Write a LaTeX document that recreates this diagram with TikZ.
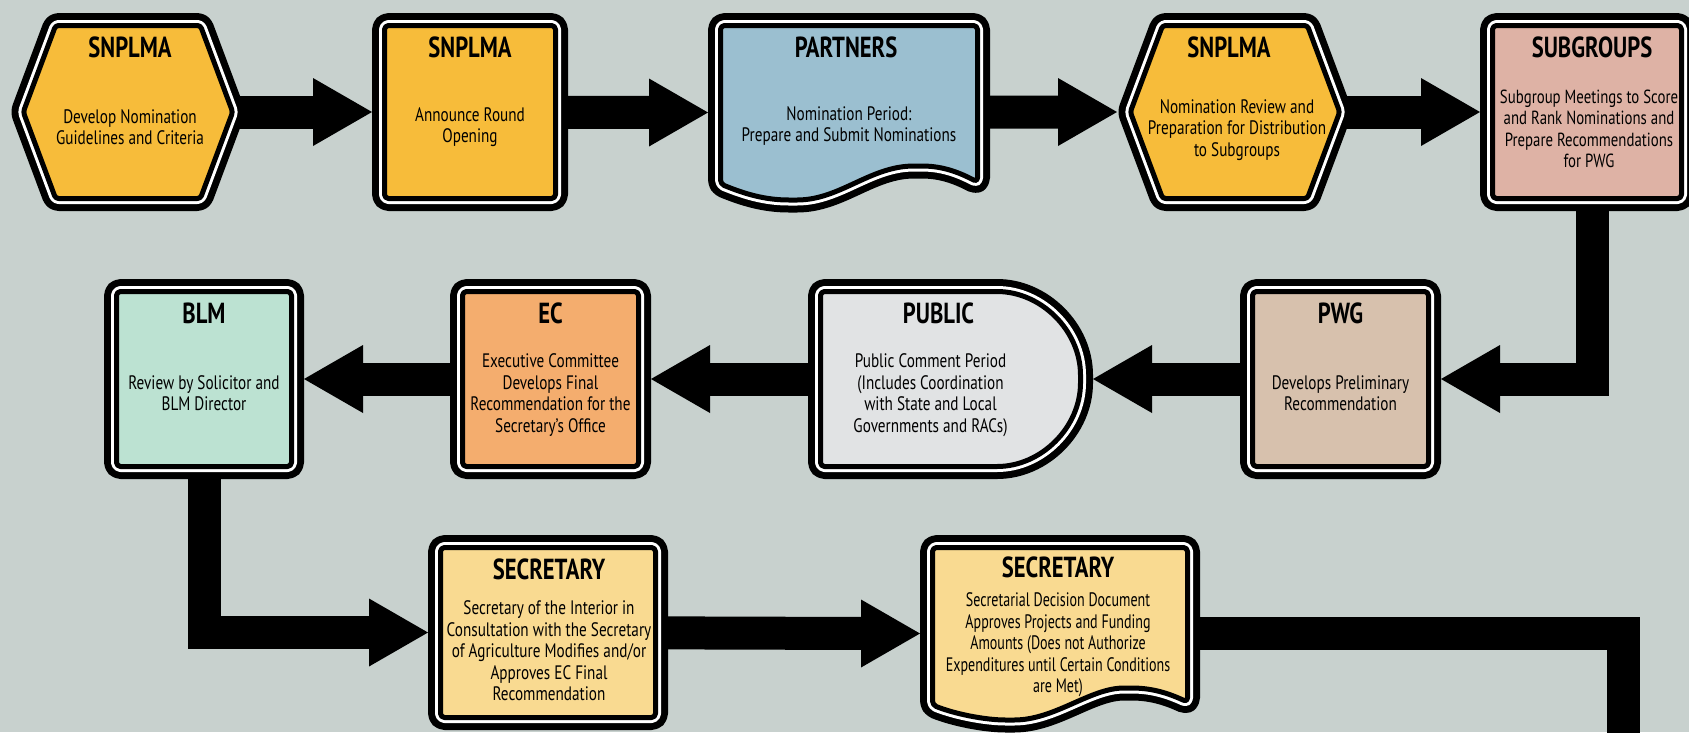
\documentclass[tikz,border=0pt]{standalone}
\usepackage{fontspec}
\setmainfont{PT Sans}[FakeStretch=0.78]
\newfontfamily\narrowfont{PT Sans}[FakeStretch=0.72]
\usetikzlibrary{calc}
\definecolor{bgc}{HTML}{C8D1CE}
\definecolor{yelc}{HTML}{F7BC3A}
\definecolor{bluc}{HTML}{9BBFD0}
\definecolor{pnkc}{HTML}{DEB2A5}
\definecolor{pwgc}{HTML}{D7C1AD}
\definecolor{pubc}{HTML}{E1E3E4}
\definecolor{ecc}{HTML}{F4AD6E}
\definecolor{blmc}{HTML}{BCE2D2}
\definecolor{secc}{HTML}{F9DA91}
\newcommand\headE[1]{\fill[black] ($(#1)+(-59,-34)$) -- (#1) -- ($(#1)+(-59,34)$) -- cycle;}
\newcommand\headW[1]{\fill[black] ($(#1)+(59,-34)$) -- (#1) -- ($(#1)+(59,34)$) -- cycle;}
\begin{document}
\begin{tikzpicture}[x=1pt,y=-1pt,
  frame/.style={inner sep=0pt, outer sep=0pt, draw=none},
  tri/.style={draw=black, line width=5pt, fill=#1, line join=round,
    preaction={draw=black, line width=25pt, line join=round},
    preaction={draw=white, line width=11pt, line join=round}},
  shaft/.style={draw=black, line width=33pt, line join=miter, line cap=butt},
  ttl/.style={font=\fontsize{29}{32}\selectfont\bfseries, inner sep=0pt},
  bod/.style={font=\fontsize{19.5}{21.5}\selectfont, align=center, inner sep=0pt},
  nbod/.style={font=\narrowfont\fontsize{19.5}{21.5}\selectfont, align=center, inner sep=0pt}]
\useasboundingbox (0,0) rectangle (1689,732);
\fill[bgc] (0,0) rectangle (1689,732);
% frames (outer bounds of the boxes)
\node[frame, minimum width=236pt, minimum height=198pt] (h1) at (128,112) {};
\node[frame, minimum width=196pt, minimum height=198pt] (b2) at (470,112) {};
\node[frame, minimum width=282pt, minimum height=199pt] (pa) at (849,112.5) {};
\node[frame, minimum width=236pt, minimum height=198pt] (h2) at (1235,112) {};
\node[frame, minimum width=214pt, minimum height=198pt] (sg) at (1587,112) {};
\node[frame, minimum width=201pt, minimum height=200pt] (pw) at (1340.5,379) {};
\node[frame, minimum width=285pt, minimum height=200pt] (pu) at (950.5,379) {};
\node[frame, minimum width=201pt, minimum height=200pt] (ec) at (550.5,379) {};
\node[frame, minimum width=200pt, minimum height=200pt] (bl) at (204,379) {};
\node[frame, minimum width=240pt, minimum height=195pt] (s1) at (548,632.5) {};
\node[frame, minimum width=280pt, minimum height=197pt] (s2) at (1060,633.5) {};
\coordinate (out) at (1623.5,760);
% connectors
\draw[shaft] (h1.center) -- ($(b2.west)+(-50,0)$); \headE{b2.west}
\draw[shaft] (b2.center) -- ($(pa.west)+(-50,0)$); \headE{pa.west}
\draw[shaft] (pa.center) -- ($(h2.west)+(-50,0)$); \headE{h2.west}
\draw[shaft] (h2.center) -- ($(sg.west)+(-50,0)$); \headE{sg.west}
\draw[shaft] ($(sg.center)+(5,0)$) |- ($(pw.east)+(50,0)$); \headW{pw.east}
\draw[shaft] (pw.center) -- ($(pu.east)+(50,0)$); \headW{pu.east}
\draw[shaft] (pu.center) -- ($(ec.east)+(50,0)$); \headW{ec.east}
\draw[shaft] (ec.center) -- ($(bl.east)+(50,0)$); \headW{bl.east}
\draw[shaft] (bl.center) |- ($(s1.west)+(-50,0)$); \headE{s1.west}
\draw[shaft] (s1.center) -- ($(s2.west)+(-50,0)$); \headE{s2.west}
\draw[shaft] (s2.center) -| (out);
% shapes
\path[tri=yelc, rounded corners=3pt] (23.3,112) -- (55.6,25.5) -- (200.4,25.5) -- (232.7,112) -- (200.4,198.5) -- (55.6,198.5) -- cycle;
\path[tri=yelc, rounded corners=4pt] (384.5,25.5) rectangle (555.5,198.5);
\path[tri=bluc, rounded corners=4pt] (849,25.5) -- (720.5,25.5) -- (720.5,184)
  .. controls (745,194) and (765,200) .. (793,200)
  .. controls (840,200) and (870,166) .. (918,166)
  .. controls (945,166) and (962,174) .. (977.5,182) -- (977.5,25.5) -- cycle;
\path[tri=yelc, rounded corners=3pt] (1130.3,112) -- (1162.6,25.5) -- (1307.4,25.5) -- (1339.7,112) -- (1307.4,198.5) -- (1162.6,198.5) -- cycle;
\path[tri=pnkc, rounded corners=4pt] (1492.5,25.5) rectangle (1681.5,198.5);
\path[tri=pwgc, rounded corners=4pt] (1252.5,291.5) rectangle (1428.5,466.5);
\path[tri=pubc, rounded corners=4pt] (900,291.5) -- (820.5,291.5) -- (820.5,466.5) -- (993,466.5)
  .. controls (1041.3,466.5) and (1080.5,427.3) .. (1080.5,379)
  .. controls (1080.5,330.7) and (1041.3,291.5) .. (993,291.5) -- cycle;
\path[tri=ecc, rounded corners=4pt] (462.5,291.5) rectangle (638.5,466.5);
\path[tri=blmc, rounded corners=4pt] (116.5,291.5) rectangle (291.5,466.5);
\path[tri=secc, rounded corners=4pt] (440.5,547.5) rectangle (655.5,717.5);
\path[tri=secc, rounded corners=4pt] (1060,547.5) -- (932.5,547.5) -- (932.5,705)
  .. controls (955,714) and (985,720) .. (1010,720)
  .. controls (1055,720) and (1090,688) .. (1128,688)
  .. controls (1155,688) and (1172,695) .. (1187.5,702) -- (1187.5,547.5) -- cycle;
% texts
\node[ttl] (h1t) at ($(h1.north)+(2,34)$) {SNPLMA};
\node[bod] (h1b) at ($(h1.north)+(2,114)$) {Develop Nomination\\Guidelines and Criteria};
\node[ttl] (b2t) at ($(b2.north)+(0,34)$) {SNPLMA};
\node[bod] (b2b) at ($(b2.north)+(0,114)$) {Announce Round\\Opening};
\node[ttl] (pat) at ($(pa.north)+(-3,34)$) {PARTNERS};
\node[bod] (pab) at ($(pa.north)+(0,113)$) {Nomination Period:\\Prepare and Submit Nominations};
\node[ttl] (h2t) at ($(h2.north)+(-6,34)$) {SNPLMA};
\node[bod] (h2b) at ($(h2.north)+(2,117)$) {Nomination Review and\\Preparation for Distribution\\to Subgroups};
\node[ttl] (sgt) at ($(sg.north)+(5,34)$) {SUBGROUPS};
\node[bod, font=\fontsize{19}{21.5}\selectfont] (sgb) at ($(sg.north)+(2,116)$) {Subgroup Meetings to Score\\and Rank Nominations and\\Prepare Recommendations\\for PWG};
\node[ttl] (pwt) at ($(pw.north)+(0,34)$) {PWG};
\node[bod] (pwb) at ($(pw.north)+(0,114)$) {Develops Preliminary\\Recommendation};
\node[ttl] (put) at ($(pu.north)+(-12,34)$) {PUBLIC};
\node[bod] (pub) at ($(pu.north)+(-20,116)$) {Public Comment Period\\(Includes Coordination\\with State and Local\\Governments and RACs)};
\node[ttl] (ect) at ($(ec.north)+(0,34)$) {EC};
\node[bod] (ecb) at ($(ec.north)+(0,116)$) {Executive Committee\\Develops Final\\Recommendation for the\\Secretary’s Office};
\node[ttl] (blt) at ($(bl.north)+(0,34)$) {BLM};
\node[bod] (blb) at ($(bl.north)+(0,114)$) {Review by Solicitor and\\BLM Director};
\node[ttl] (s1t) at ($(s1.north)+(1,34)$) {SECRETARY};
\node[bod] (s1b) at ($(s1.north)+(1,116)$) {Secretary of the Interior in\\Consultation with the Secretary\\of Agriculture Modifies and/or\\Approves EC Final\\Recommendation};
\node[ttl] (s2t) at ($(s2.north)+(-2,32)$) {SECRETARY};
\node[nbod] (s2b) at ($(s2.north)+(-2,110)$) {Secretarial Decision Document\\Approves Projects and Funding\\Amounts (Does not Authorize\\Expenditures until Certain Conditions\\are Met)};
\end{tikzpicture}
\end{document}
